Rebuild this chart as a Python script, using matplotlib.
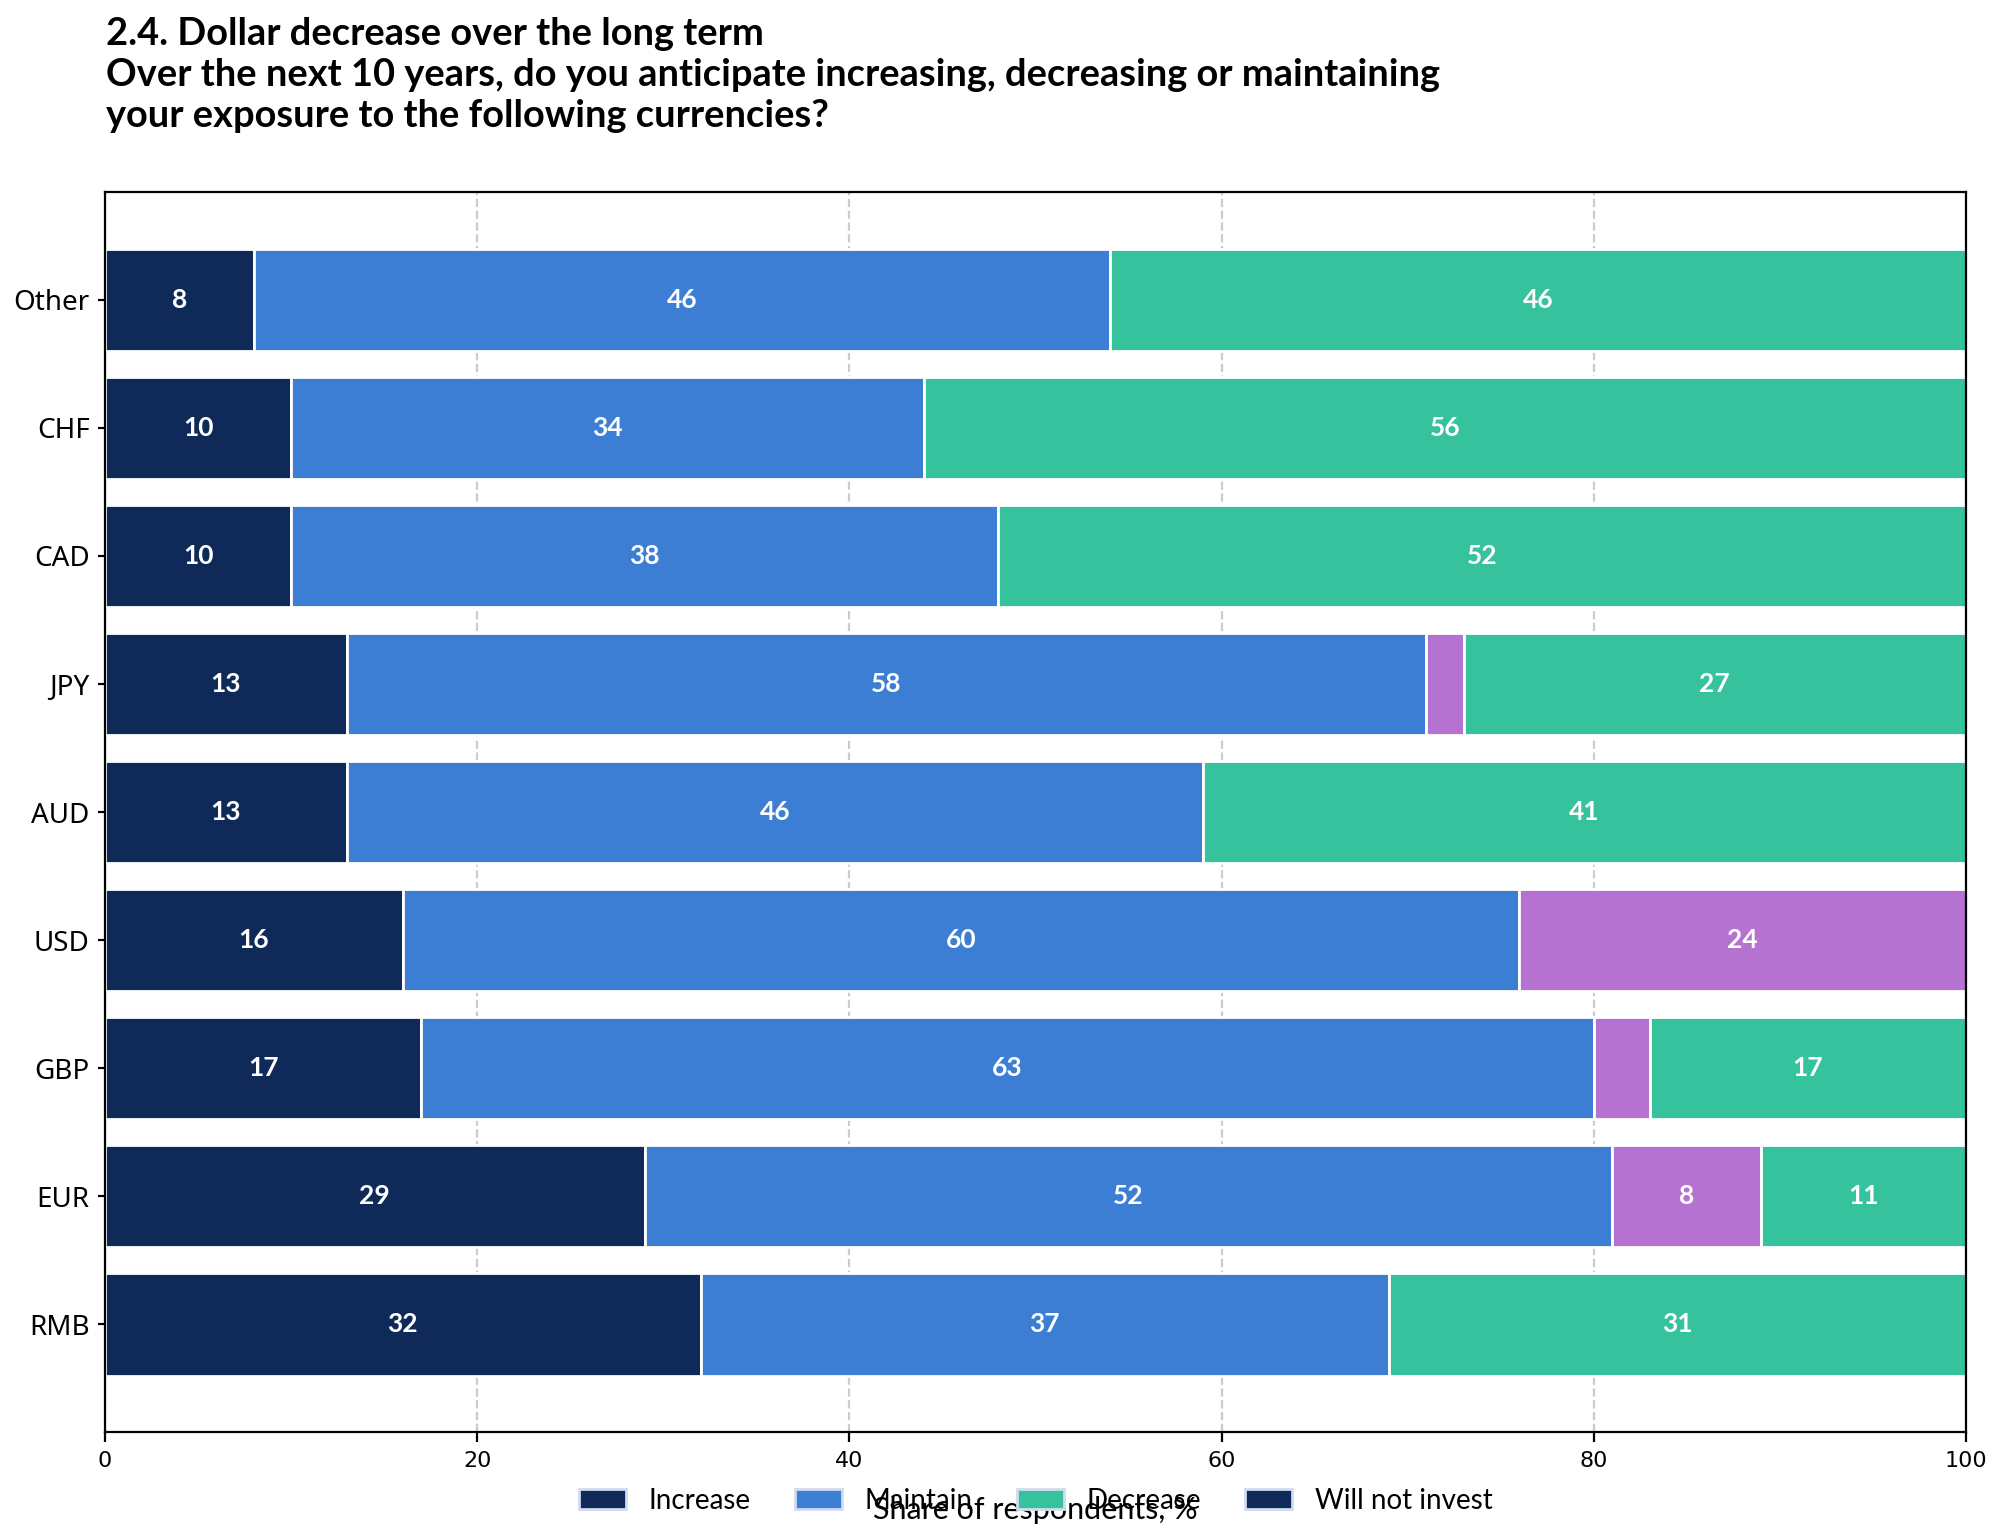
import matplotlib
matplotlib.use("Agg")
import matplotlib.pyplot as plt
from matplotlib.patches import Patch
import numpy as np

# survey values, % of respondents (bottom to top)
currencies = ['RMB', 'EUR', 'GBP', 'USD', 'AUD', 'JPY', 'CAD', 'CHF', 'Other']
increase = [32, 29, 17, 16, 13, 13, 10, 10, 8]
maintain = [37, 52, 63, 60, 46, 58, 38, 34, 46]
will_not = [0, 8, 3, 24, 0, 2, 0, 0, 0]
decrease = [31, 11, 17, 0, 41, 27, 52, 56, 46]

navy = '#0f2a59'
blue = '#3b7ed4'
purple = '#b672d1'
green = '#36c29c'

fig = plt.figure(figsize=(10, 7.69), dpi=200)
ax = fig.add_axes([0.0525, 0.069, 0.9305, 0.806])

y = np.arange(len(currencies))
left = np.zeros(len(currencies))
for vals, col in [(increase, navy), (maintain, blue), (will_not, purple), (decrease, green)]:
    vals = np.array(vals, dtype=float)
    bars = ax.barh(y, vals, left=left, color=col, edgecolor='white', linewidth=1, height=0.8, zorder=2)
    for b, v in zip(bars, vals):
        if v >= 5:
            ax.text(b.get_x() + b.get_width() / 2, b.get_y() + b.get_height() / 2, '%d' % v,
                    ha='center', va='center', color='white', fontsize=9.5, fontweight='bold',
                    family='Lato', zorder=3)
    left += vals

ax.set_xlim(0, 100)
ax.set_yticks(y)
ax.set_yticklabels(currencies, family='Noto Sans', fontsize=10)
ax.tick_params(axis='y', length=2.5, pad=3)
ax.tick_params(axis='x', labelsize=8)
ax.xaxis.grid(True, linestyle='--', color='#cccccc', linewidth=0.8, zorder=0)
ax.set_axisbelow(True)

ax.set_xlabel('Share of respondents, %', family='Lato', fontsize=11, labelpad=9)

# legend as in the original (last entry reuses the navy swatch)
handles = [Patch(facecolor=c, edgecolor='#d0dcf0') for c in [navy, blue, green, navy]]
ax.legend(handles, ['Increase', 'Maintain', 'Decrease', 'Will not invest'],
          loc='upper center', bbox_to_anchor=(0.5, -0.025), ncol=4, frameon=False,
          prop={'family': 'Lato', 'size': 10}, handlelength=1.7, handletextpad=0.8,
          columnspacing=1.6)

fig.text(0.053, 0.989, '2.4. Dollar decrease over the long term\n'
         'Over the next 10 years, do you anticipate increasing, decreasing or maintaining\n'
         'your exposure to the following currencies?',
         ha='left', va='top', fontsize=13.7, fontweight='bold', family='Lato',
         linespacing=1.25)

fig.savefig('out.png', dpi=200)
